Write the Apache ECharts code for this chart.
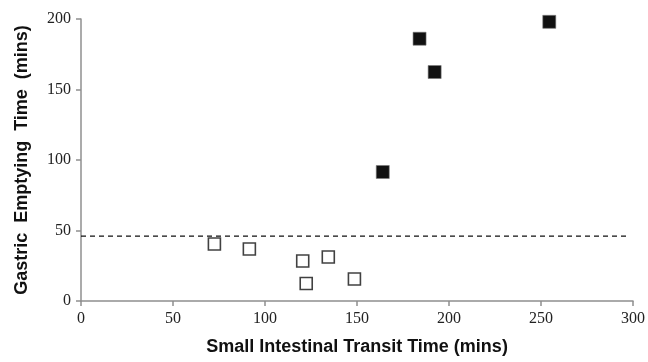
<!DOCTYPE html>
<html>
<head>
<meta charset="utf-8">
<script src="https://cdn.jsdelivr.net/npm/echarts@6/dist/echarts.min.js"></script>
<style>
  html, body { margin: 0; padding: 0; background: #fff; }
  #main { width: 648px; height: 362px; }
</style>
</head>
<body>
<div id="main"></div>
<script>
"use strict";

// open squares: below cut-off
var normalPoints = [[72.5, 40.4], [91.5, 36.9], [120.5, 28.4], [134.4, 31.2], [122.4, 12.4], [148.6, 15.6]];
// filled squares: delayed emptying
var delayedPoints = [[164, 91.5], [184, 186], [192.2, 162.4], [254.5, 198]];
// dashed cut-off line
var cutoffLine = [[0, 46], [297, 46]];
var xTicks = { min: 0, max: 300, step: 50 };
var yTicks = { min: 0, max: 200, step: 50 };

var axisGray = '#8f8f8f';
var tickFont = { fontFamily: 'Liberation Serif', fontSize: 16, color: '#222' };
var nameFont = { fontFamily: 'Liberation Sans', fontSize: 18, fontWeight: 'bold', color: '#111' };

var myChart = echarts.init(document.getElementById('main'));

var option = {
    animation: false,
    grid: { left: 81, right: 13, top: 19, bottom: 61 },
    xAxis: {
        type: 'value',
        min: xTicks.min,
        max: xTicks.max,
        interval: xTicks.step,
        name: 'Small Intestinal Transit Time (mins)',
        nameLocation: 'middle',
        nameGap: 37,
        nameTextStyle: nameFont,
        axisLine: { show: true, lineStyle: { color: axisGray, width: 1.5 } },
        axisTick: { show: true, length: 5, lineStyle: { color: axisGray, width: 1.5 } },
        axisLabel: Object.assign({ margin: 10 }, tickFont),
        splitLine: { show: false }
    },
    yAxis: {
        type: 'value',
        min: yTicks.min,
        max: yTicks.max,
        interval: yTicks.step,
        name: 'Gastric  Emptying  Time  (mins)',
        nameLocation: 'middle',
        nameGap: 50,
        nameTextStyle: nameFont,
        axisLine: { show: true, lineStyle: { color: axisGray, width: 1.5 } },
        axisTick: { show: true, length: 5, lineStyle: { color: axisGray, width: 1.5 } },
        axisLabel: Object.assign({ margin: 10 }, tickFont),
        splitLine: { show: false }
    },
    series: [
        {
            name: 'cutoff',
            type: 'line',
            data: cutoffLine,
            showSymbol: false,
            silent: true,
            lineStyle: { color: '#111', width: 1.2, type: [5, 4] }
        },
        {
            name: 'normal',
            type: 'scatter',
            data: normalPoints,
            symbol: 'rect',
            symbolSize: 12,
            itemStyle: { color: '#fff', borderColor: '#111', borderWidth: 1.6 }
        },
        {
            name: 'delayed',
            type: 'scatter',
            data: delayedPoints,
            symbol: 'rect',
            symbolSize: 13,
            itemStyle: { color: '#111', opacity: 1, borderColor: '#777', borderWidth: 0.6 }
        }
    ]
};
myChart.setOption(option);
</script>
</body>
</html>
